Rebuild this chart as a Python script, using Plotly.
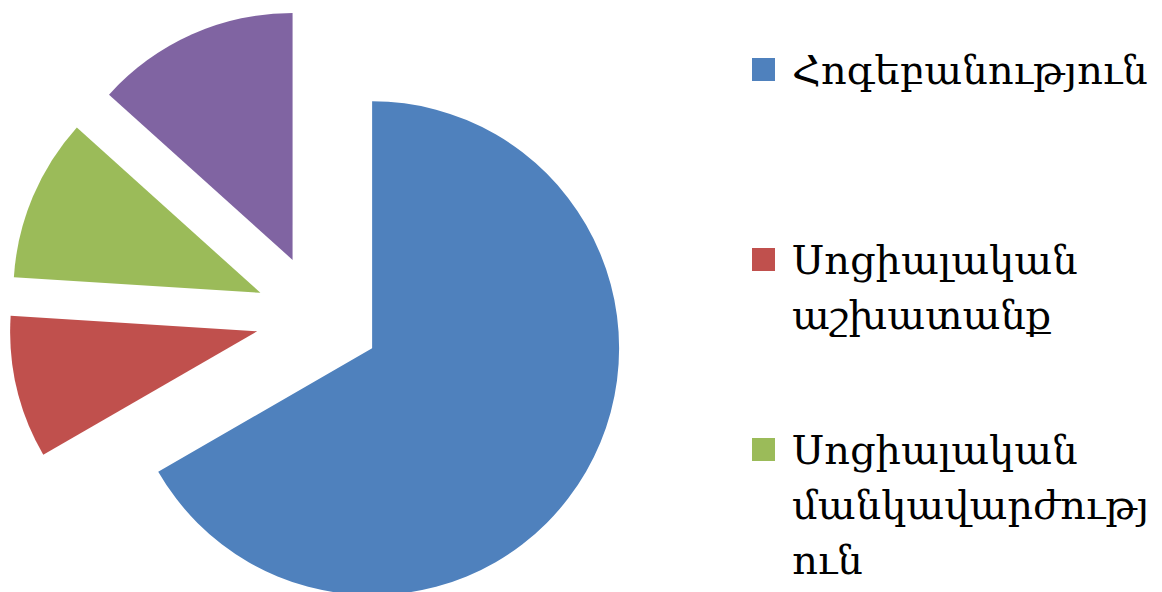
import math
import plotly.graph_objects as go

labels = ["Հոգեբանություն", "Սոցիալական աշխատանք", "Սոցիալական մանկավարժություն", "Այլ"]
values = [50, 7, 8, 10]
colors = ["#4F81BD", "#C0504D", "#9BBB59", "#8064A2"]
# legend text as it wraps in the picture (only the first three entries are visible)
legend_lines = [
    ["Հոգեբանություն"],
    ["Սոցիալական", "աշխատանք"],
    ["Սոցիալական", "մանկավարժությ", "ուն"],
]

W, H = 1162, 600   # a few px taller than the window: the pie runs off the bottom edge
R = 247            # pie radius, px
PULL = 0.253       # explosion as a fraction of the radius (all slices)
CX, CY = 318, 317  # centre of the pie before explosion, px
FONT = "DejaVu Serif"

fig = go.Figure()

# one pie per slice, each shifted along its own bisector (Excel-style explosion)
total = sum(values)
start = 0
for i, v in enumerate(values):
    mid = (start + v / 2) / total * 2 * math.pi
    start += v
    px = CX + PULL * R * math.sin(mid)
    py = CY - PULL * R * math.cos(mid)
    dx = [max(0, (px - R) / W), min(1, (px + R) / W)]
    dy = [max(0, 1 - (py + R) / H), min(1, 1 - (py - R) / H)]
    fig.add_trace(go.Pie(
        labels=labels,
        values=values,
        sort=False,
        direction="clockwise",
        rotation=0,
        marker=dict(colors=[c if j == i else "rgba(0,0,0,0)" for j, c in enumerate(colors)],
                    line=dict(width=0)),
        textinfo="none",
        hoverinfo="label+percent",
        domain=dict(x=dx, y=dy),
        showlegend=False,
    ))

# legend drawn by hand so the spacing and wrapping follow the picture
sq = 23
entry_y = [69.5, 259.5, 449.5]
line_gap = 55
for k, lines in enumerate(legend_lines):
    yc = entry_y[k]
    fig.add_shape(type="rect", xref="paper", yref="paper",
                  x0=752 / W, x1=(752 + sq) / W,
                  y0=1 - (yc + sq / 2) / H, y1=1 - (yc - sq / 2) / H,
                  fillcolor=colors[k], line=dict(width=0))
    for n, txt in enumerate(lines):
        fig.add_annotation(x=790 / W, y=1 - (yc + n * line_gap) / H,
                           xref="paper", yref="paper", xanchor="left", yanchor="middle",
                           text=txt, showarrow=False,
                           font=dict(family=FONT, size=40, color="#000000"))

fig.update_layout(
    width=W, height=H,
    margin=dict(l=0, r=0, t=0, b=0),
    paper_bgcolor="white",
    plot_bgcolor="white",
)

# drop the browser's default 8px body margin so the figure starts at the window corner
fig.write_html("out.html",
               config={"displayModeBar": False},
               post_script="document.body.style.margin='0';"
                           "document.documentElement.style.overflow='hidden';")
